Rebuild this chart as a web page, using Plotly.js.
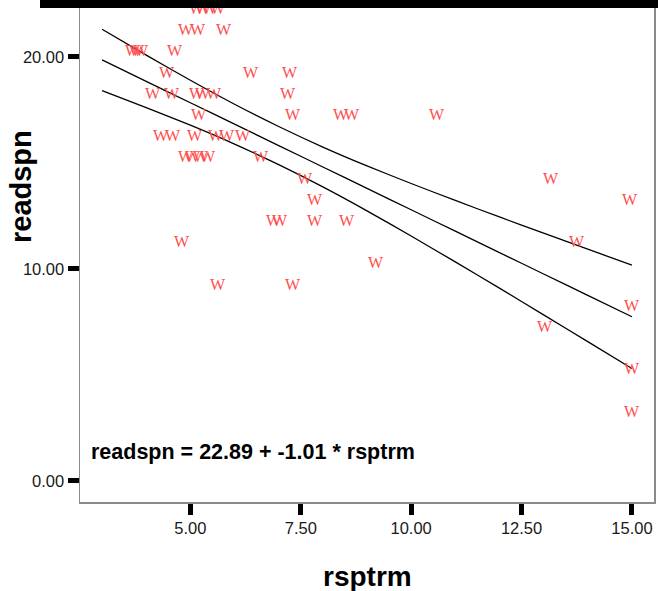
<!DOCTYPE html>
<html>
<head>
<meta charset="utf-8">
<script src="https://cdn.plot.ly/plotly-3.0.1.min.js"></script>
<style>
html,body{margin:0;padding:0;background:#fff;}
#wrap{position:relative;width:658px;height:591px;}
#chart{width:658px;height:591px;}
#bar{position:absolute;left:40px;top:0;width:618px;height:8px;background:#000;}
</style>
</head>
<body>
<div id="wrap"><div id="chart"></div><div id="bar"></div></div>
<script>
// Observed cases (rsptrm, readspn)
const rsptrm = [
  5.14, 5.29, 5.45, 5.63,
  4.91, 5.18, 5.75,
  3.71, 3.80, 3.89, 4.66,
  4.48, 6.38, 7.26,
  4.16, 4.59, 5.16, 5.29, 5.54, 7.20,
  5.20, 7.33, 8.40, 8.65, 10.59,
  4.34, 4.61, 5.11, 5.59, 5.82, 6.20,
  4.91, 5.07, 5.23, 5.41, 6.61,
  7.60, 13.17,
  7.83, 14.96,
  6.90, 7.04, 7.83, 8.55,
  4.82, 13.76,
  9.21,
  5.63, 7.33,
  15.00,
  13.04,
  15.00,
  15.00
];
const readspn = [
  22, 22, 22, 22,
  21, 21, 21,
  20, 20, 20, 20,
  19, 19, 19,
  18, 18, 18, 18, 18, 18,
  17, 17, 17, 17, 17,
  16, 16, 16, 16, 16, 16,
  15, 15, 15, 15, 15,
  14, 14,
  13, 13,
  12, 12, 12, 12,
  11, 11,
  10,
  9, 9,
  8,
  7,
  5,
  3
];
const markerLabel = "W";

// Fit line and 95% mean confidence band
const fitX  = [3, 4, 5, 6, 7, 8, 9, 10, 11, 12, 13, 14, 15];
const fitY  = [19.86, 18.85, 17.84, 16.83, 15.82, 14.81, 13.80, 12.79, 11.78, 10.77, 9.76, 8.75, 7.74];
const upper = [21.31, 20.09, 18.90, 17.77, 16.72, 15.75, 14.86, 14.03, 13.23, 12.45, 11.69, 10.93, 10.18];
const lower = [18.41, 17.61, 16.78, 15.89, 14.92, 13.87, 12.74, 11.55, 10.33, 9.09, 7.83, 6.57, 5.30];

const xTicks = [5, 7.5, 10, 12.5, 15];
const yTicks = [0, 10, 20];
const equation = "readspn = 22.89 + -1.01 * rsptrm";

const lineStyle = {color: "#000", width: 1.3, shape: "spline", smoothing: 0.6};
const traces = [
  {x: fitX, y: upper, mode: "lines", line: lineStyle, hoverinfo: "skip"},
  {x: fitX, y: fitY, mode: "lines", line: lineStyle, hoverinfo: "skip"},
  {x: fitX, y: lower, mode: "lines", line: lineStyle, hoverinfo: "skip"},
  {x: rsptrm, y: readspn, mode: "markers", marker: {size: 1, color: "rgba(0,0,0,0)"}, hoverinfo: "x+y"}
];

const wFont = {family: "Liberation Serif, Times New Roman, serif", size: 16, color: "#ff4d4d"};
const pointLabels = rsptrm.map((xv, i) => ({
  text: markerLabel, x: xv, y: readspn[i], xref: "x", yref: "y",
  xanchor: "center", yanchor: "middle", yshift: 6, showarrow: false,
  borderpad: 0, font: wFont
}));

const tickFont = {family: "Liberation Sans, Arial, sans-serif", size: 16.5, color: "#1a1a1a"};
const layout = {
  width: 658, height: 591,
  margin: {l: 80, r: 4, t: 4, b: 89},
  paper_bgcolor: "#fff", plot_bgcolor: "#fff",
  showlegend: false,
  xaxis: {
    range: [2.5, 15.5], tickvals: xTicks, tickformat: ".2f",
    ticks: "outside", ticklen: 11, tickwidth: 5, tickcolor: "#000",
    showline: true, linecolor: "#8a8a8a", linewidth: 1.5, mirror: true,
    showgrid: false, zeroline: false, tickfont: tickFont
  },
  yaxis: {
    range: [-1, 22.5], tickvals: yTicks, tickformat: ".2f",
    ticks: "outside", ticklen: 11, tickwidth: 5, tickcolor: "#000",
    showline: true, linecolor: "#8a8a8a", linewidth: 1.5, mirror: true,
    showgrid: false, zeroline: false, tickfont: tickFont
  },
  annotations: pointLabels.concat([
    {text: "<b>rsptrm</b>", xref: "paper", yref: "paper", x: 0.5017, y: -0.1506,
     xanchor: "center", yanchor: "middle", showarrow: false,
     font: {family: "Liberation Sans, Arial, sans-serif", size: 28, color: "#000"}},
    {text: "<b>readspn</b>", xref: "paper", yref: "paper", x: -0.1028, y: 0.6345,
     xanchor: "center", yanchor: "middle", textangle: -90, showarrow: false,
     font: {family: "Liberation Sans, Arial, sans-serif", size: 29, color: "#000"}},
    {text: "<b>" + equation + "</b>", xref: "paper", yref: "paper", x: 0.0157, y: 0.1004,
     xanchor: "left", yanchor: "middle", showarrow: false,
     font: {family: "Liberation Sans, Arial, sans-serif", size: 21.5, color: "#000"}}
  ])
};
Plotly.newPlot("chart", traces, layout, {displayModeBar: false, staticPlot: true});
</script>
</body>
</html>
